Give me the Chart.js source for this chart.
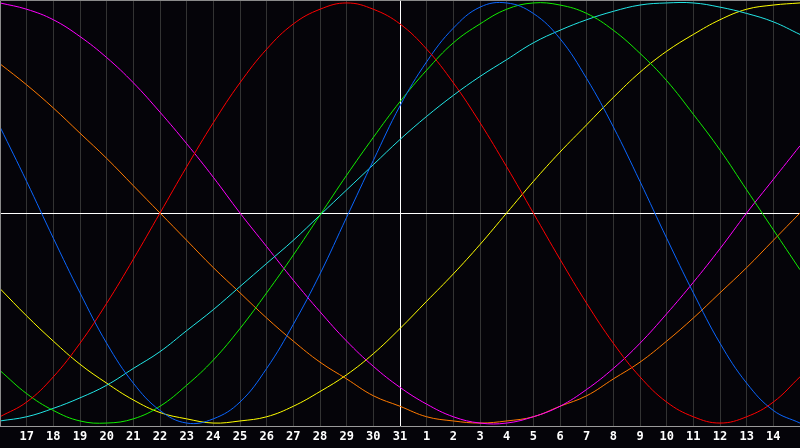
<!DOCTYPE html>
<html>
<head>
<meta charset="utf-8">
<script src="https://cdn.jsdelivr.net/npm/chart.js@4.4.1/dist/chart.umd.min.js"></script>
<style>
  html, body { margin: 0; padding: 0; background: #050409; }
  #wrap { width: 800px; height: 448px; }
</style>
</head>
<body>
<div id="wrap"><canvas id="bioChart"></canvas></div>
<script>
// day labels, first and last column sit on the plot edges and are left blank
const dayLabels = ["", "17", "18", "19", "20", "21", "22", "23", "24", "25", "26", "27", "28", "29", "30", "31",
  "1", "2", "3", "4", "5", "6", "7", "8", "9", "10", "11", "12", "13", "14", ""];

const redVals = [-97, -90, -78, -62, -43, -22, 0, 22, 43, 62, 78, 90, 97, 100, 97, 90,
  78, 62, 43, 22, 0, -22, -43, -62, -78, -90, -97, -100, -97, -90, -78];
const blueVals = [41, 15, -12, -38, -62, -81, -94, -100, -98, -90, -74, -53, -29, -2, 25, 51,
  72, 88, 98, 100, 95, 83, 64, 41, 15, -12, -38, -62, -81, -94, -100];
const greenVals = [-75, -86, -94, -99, -100, -98, -92, -82, -70, -55, -38, -20, -1, 18, 36, 53,
  68, 81, 90, 97, 100, 99, 95, 87, 76, 63, 47, 30, 11, -8, -27];
const cyanVals = [-99, -97, -93, -88, -82, -74, -66, -56, -46, -35, -24, -13, -1, 11, 23, 35,
  46, 56, 65, 73, 81, 87, 92, 96, 99, 100, 100, 98, 95, 91, 85];
const yellowVals = [-36, -49, -61, -72, -81, -89, -95, -98, -100, -99, -97, -92, -85, -77, -67, -55,
  -42, -29, -15, 0, 15, 29, 42, 55, 67, 77, 85, 92, 97, 99, 100];
const magentaVals = [100, 97, 92, 84, 74, 62, 48, 33, 17, 0, -16, -32, -47, -61, -73, -83,
  -91, -97, -100, -100, -97, -92, -84, -74, -62, -48, -33, -17, 0, 16, 32];
const orangeVals = [71, 61, 50, 38, 26, 13, 0, -13, -26, -38, -50, -61, -71, -79, -87, -92,
  -97, -99, -100, -99, -97, -92, -87, -79, -71, -61, -50, -38, -26, -13, 0];

const centerIndex = 15;

function line(values, color) {
  return {
    data: values,
    borderColor: color,
    borderWidth: 1,
    pointRadius: 0,
    pointHoverRadius: 0,
    fill: false,
    tension: 0.4,
  };
}

const frame = {
  id: "frame",
  beforeDraw(chart) {
    const c = chart.ctx;
    c.save();
    c.fillStyle = "#050409";
    c.fillRect(0, 0, chart.width, chart.height);
    c.restore();
  },
  afterDraw(chart) {
    const a = chart.chartArea;
    const c = chart.ctx;
    c.save();
    c.strokeStyle = "#8a8a8a";
    c.lineWidth = 1;
    c.beginPath();
    c.moveTo(a.left + 0.5, a.bottom);
    c.lineTo(a.left + 0.5, a.top + 0.5);
    c.lineTo(a.right, a.top + 0.5);
    c.stroke();
    c.restore();
  },
};

const ctx = document.getElementById("bioChart").getContext("2d");
const bioChart = new Chart(ctx, {
  type: "line",
  data: {
    labels: dayLabels,
    datasets: [
      line(redVals, "#ff0000"),
      line(blueVals, "#0a66ff"),
      line(greenVals, "#11ee00"),
      line(cyanVals, "#22e6e6"),
      line(yellowVals, "#ffff00"),
      line(magentaVals, "#ff00ff"),
      line(orangeVals, "#ff7a00"),
    ],
  },
  options: {
    responsive: true,
    maintainAspectRatio: false,
    animation: false,
    layout: { autoPadding: false, padding: 0 },
    plugins: {
      legend: { display: false },
      tooltip: { enabled: false },
    },
    scales: {
      x: {
        offset: false,
        afterFit: (axis) => { axis.paddingLeft = 0; axis.paddingRight = 0; },
        grid: {
          drawTicks: false,
          color: (c) => (c.index === centerIndex ? "#ffffff" : "#333333"),
        },
        border: { display: true, color: "#9a9a9a" },
        ticks: {
          autoSkip: false,
          maxRotation: 0,
          padding: 2,
          color: "#ffffff",
          font: { family: "DejaVu Sans Mono", size: 12, weight: "bold", lineHeight: 1.5 },
        },
      },
      y: {
        min: -101.4,
        max: 101.4,
        afterBuildTicks: (axis) => { axis.ticks = [{ value: 0 }]; },
        grid: { drawTicks: false, color: "#ffffff" },
        border: { display: false },
        ticks: { display: false },
      },
    },
  },
  plugins: [frame],
});
</script>
</body>
</html>
